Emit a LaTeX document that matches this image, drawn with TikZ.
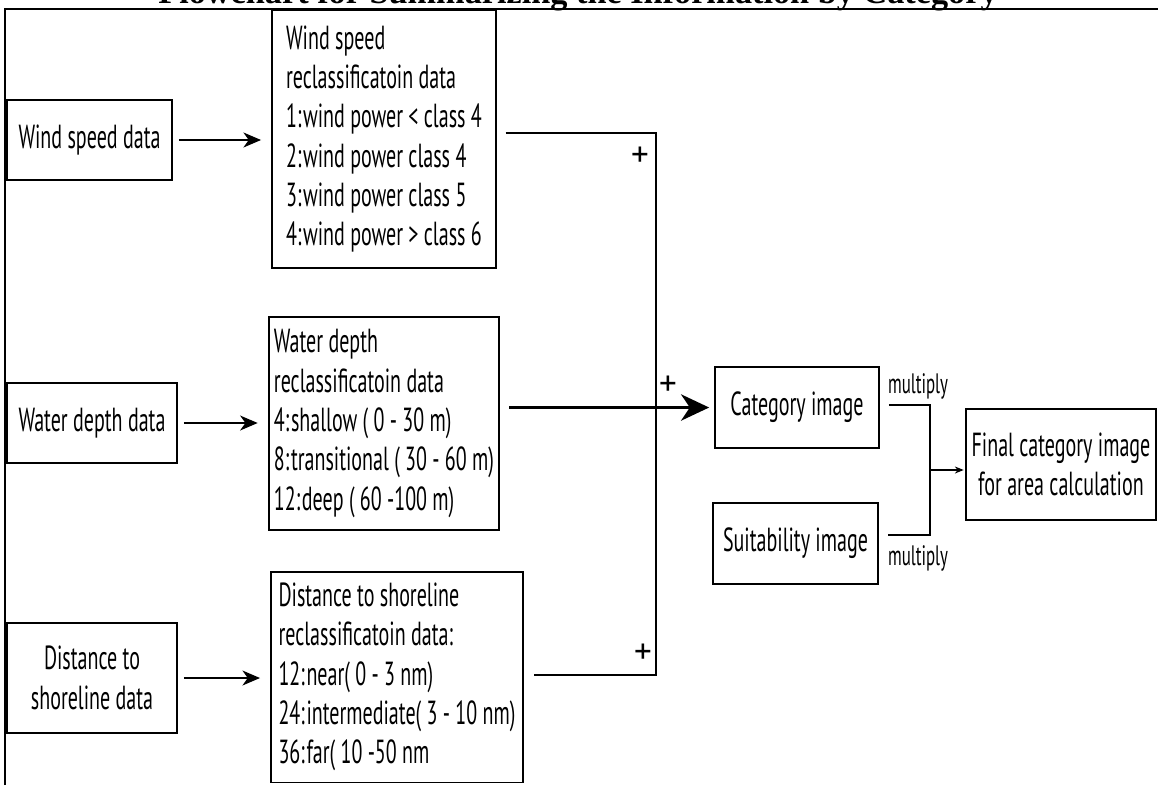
\documentclass[tikz,border=0pt]{standalone}
\usepackage{fontspec}
\setmainfont{PT Sans}[FakeStretch=0.6]
\newfontfamily\plainsans{PT Sans}
\newfontfamily\titlefont{Liberation Serif}
\usepackage{tikz}
\usetikzlibrary{positioning,arrows.meta}

\begin{document}
\begin{tikzpicture}[
        % define styles
        x=0.02cm, y=-0.02cm,
        box/.style={
            draw,
            line width=1.1pt,
            inner sep=0pt,
            align=center,
            font=\fontsize{19}{22.4}\selectfont
        },
        reclass/.style={
            box,
            align=left,
            inner xsep=3pt,
            minimum width=#1
        },
        link/.style={line width=1.2pt},
        arr/.style={
            line width=1.1pt,
            -{Stealth[length=10pt,width=8.5pt,inset=3pt]},
            shorten <=3.4pt, shorten >=5.7pt
        },
        plus/.style={font=\plainsans\fontsize{20}{20}\selectfont, inner sep=0pt},
        mult/.style={font=\fontsize{16}{16}\selectfont, inner sep=0pt}
    ]
    \useasboundingbox (0,0) rectangle (1158,785);

    % title, cut at the top of the page
    \node[anchor=base, inner sep=0pt] (title) at (578,3)
        {\titlefont\bfseries\fontsize{19.5}{19.5}\selectfont Flowchart for Summarizing the Information by Category};
    \draw[line width=1.7pt] (5,785) -- (5,9) -- (1158,9);

    % input data
    \node[box, minimum width=3.3cm, minimum height=1.6cm] (wsd) at (89.5,140) {Wind speed data};
    \node[box, minimum width=3.4cm, minimum height=1.6cm] (wdd) at (92,423) {Water depth data};
    \node[box, minimum width=3.4cm, minimum height=2.2cm] (ddd) at (92,678)
        {Distance to\\shoreline data};

    % reclassification
    \node[reclass=4.48cm, minimum height=5.16cm] (wrc) at (384,139)
        {Wind speed\\reclassificatoin data\\1:\kern1pt wind power < class 4\\2:\kern1pt wind power class 4\\3:\kern1pt wind power class 5\\4:\kern1pt wind power > class 6};
    \node[reclass=4.48cm, minimum height=4.26cm] (wtrc) at (384,423.5)
        {Water depth\\reclassificatoin data\\4:\kern1pt shallow ( 0 - 30 m)\\8:\kern1pt transitional ( 30 - 60 m)\\12:\kern1pt deep ( 60 -100 m)};
    \node[reclass=5.04cm, minimum height=4.22cm] (drc) at (397,677)
        {Distance to shoreline\\reclassificatoin data:\\12:\kern1pt near( 0 - 3 nm)\\24:\kern1pt intermediate( 3 - 10 nm)\\36:\kern1pt far( 10 -50 nm};

    % images
    \node[box, minimum width=3.28cm, minimum height=1.62cm] (cat) at (797,407.5) {Category image};
    \node[box, minimum width=3.3cm, minimum height=1.62cm] (suit) at (795.5,543.5) {Suitability image};
    \node[box, line width=1.5pt, minimum width=3.8cm, minimum height=2.22cm] (final) at (1061,464.5)
        {Final category image\\for area calculation};

    % inputs to reclassification
    \foreach \src/\dst in {wsd/wrc, wdd/wtrc, ddd/drc}
        \draw[arr] (\src.east) -- (\src.east -| \dst.west);

    % sum of the three layers
    \coordinate (bustop) at (656,133);
    \coordinate (busbot) at (656,675);
    \draw[link, shorten <=5pt, shorten >=5.7pt]
        (wrc.east |- bustop) -- (bustop) -- (busbot) -- (drc.east |- busbot);
    \draw[line width=1.5pt, -{Stealth[length=16pt,width=15pt,inset=5pt]},
        shorten <=5pt, shorten >=2.8pt]
        (wtrc.east |- cat.west) -- (cat.west);
    \node[plus] (p1) at (640,157) {+};
    \node[plus] (p2) at (668,386) {+};
    \node[plus] (p3) at (643,654) {+};

    % multiply
    \coordinate (mtop) at (930,405);
    \coordinate (mbot) at (930,535);
    \coordinate (mjoin) at (930,470);
    \draw[line width=0.7pt, shorten <=5pt, shorten >=5pt]
        (cat.east |- mtop) -- (mtop) -- (mbot) -- (suit.east |- mbot);
    \draw[line width=0.7pt, -{Stealth[length=5pt,width=4pt]}, shorten >=0.6pt]
        (mjoin) -- (final.west |- mjoin);
    \node[mult] (m1) at (918,386) {multiply};
    \node[mult] (m2) at (918,558) {multiply};
\end{tikzpicture}
\end{document}
